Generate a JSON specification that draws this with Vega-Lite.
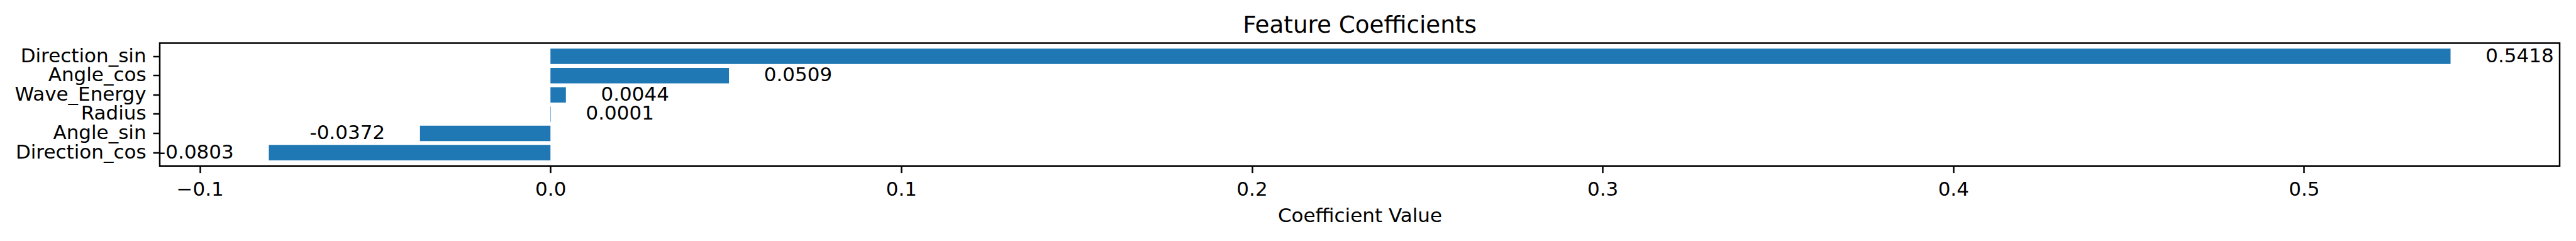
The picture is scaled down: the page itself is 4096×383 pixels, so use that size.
{
  "$schema": "https://vega.github.io/schema/vega-lite/v6.json",
  "autosize": {"type": "none"},
  "padding": {"left": 254, "top": 68.5, "right": 26, "bottom": 119.3},
  "width": 3816,
  "height": 195.2,
  "background": "white",
  "title": {
    "text": "Feature Coefficients",
    "font": "DejaVu Sans",
    "fontSize": 37.25,
    "fontWeight": "normal",
    "color": "black",
    "anchor": "middle",
    "offset": 8
  },
  "data": {
    "values": [
      {"feature": "Direction_sin", "value": 0.5418},
      {"feature": "Angle_cos", "value": 0.0509},
      {"feature": "Wave_Energy", "value": 0.0044},
      {"feature": "Radius", "value": 0.0001},
      {"feature": "Angle_sin", "value": -0.0372},
      {"feature": "Direction_cos", "value": -0.0803}
    ]
  },
  "encoding": {
    "y": {
      "field": "feature",
      "type": "nominal",
      "sort": ["Direction_sin", "Angle_cos", "Wave_Energy", "Radius", "Angle_sin", "Direction_cos"],
      "scale": {"paddingInner": 0.2, "paddingOuter": 0.29},
      "axis": {
        "title": null,
        "domain": false,
        "grid": false,
        "labelFont": "DejaVu Sans",
        "labelFontSize": 31,
        "labelColor": "black",
        "labelLimit": 0,
        "tickColor": "black",
        "tickWidth": 2.5,
        "tickSize": 10.9,
        "labelPadding": 11
      }
    },
    "x": {
      "field": "value",
      "type": "quantitative",
      "scale": {"domain": [-0.11141, 0.57291], "nice": false, "zero": false},
      "axis": {
        "values": [-0.1, 0, 0.1, 0.2, 0.3, 0.4, 0.5],
        "format": ".1f",
        "domain": false,
        "grid": false,
        "labelFont": "DejaVu Sans",
        "labelFontSize": 31,
        "labelColor": "black",
        "labelFlush": false,
        "labelOverlap": false,
        "tickColor": "black",
        "tickWidth": 2.5,
        "tickSize": 10.9,
        "labelPadding": 11.5,
        "title": "Coefficient Value",
        "titleFont": "DejaVu Sans",
        "titleFontSize": 31,
        "titleFontWeight": "normal",
        "titleColor": "black",
        "titlePadding": 12
      }
    }
  },
  "layer": [
    {"mark": {"type": "bar", "color": "#1f77b4"}},
    {
      "transform": [{"filter": "datum.value >= 0"}],
      "mark": {"type": "text", "align": "left", "baseline": "middle", "dx": 55.7, "font": "DejaVu Sans", "fontSize": 31, "color": "black"},
      "encoding": {"text": {"field": "value", "type": "nominal"}}
    },
    {
      "transform": [{"filter": "datum.value < 0"}],
      "mark": {"type": "text", "align": "right", "baseline": "middle", "dx": -55.7, "font": "DejaVu Sans", "fontSize": 31, "color": "black"},
      "encoding": {"text": {"field": "value", "type": "nominal"}}
    }
  ],
  "config": {
    "view": {"stroke": "black", "strokeWidth": 2.5}
  }
}
